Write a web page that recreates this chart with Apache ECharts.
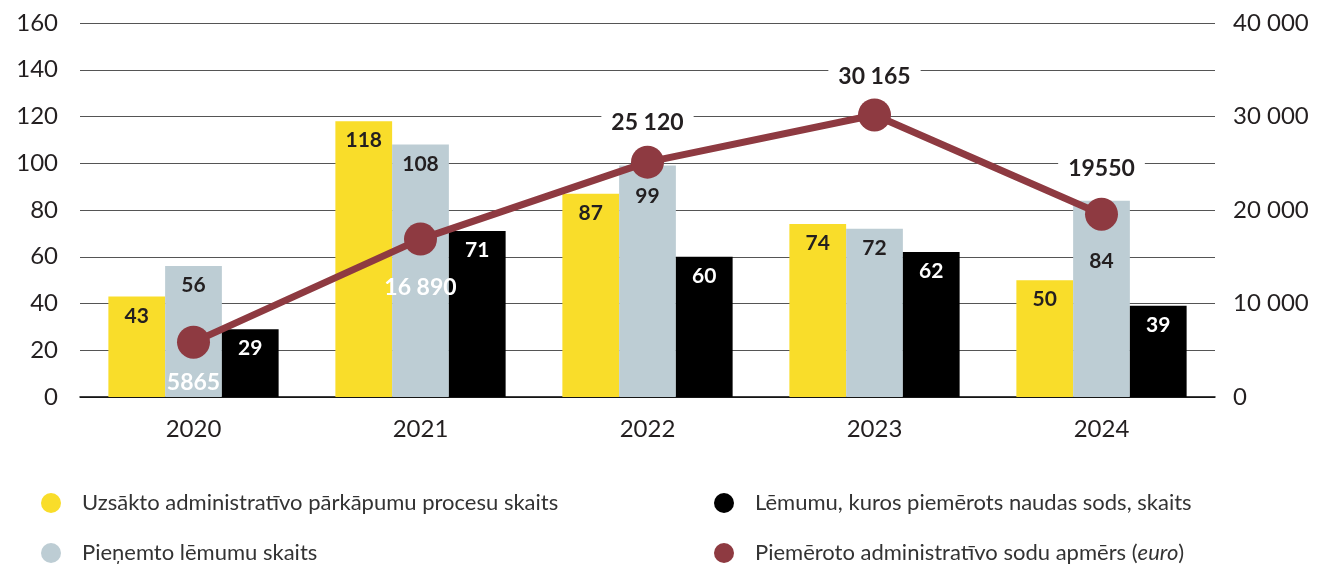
<!DOCTYPE html>
<html>
<head>
<meta charset="utf-8">
<script src="https://cdn.jsdelivr.net/npm/echarts@6/dist/echarts.min.js"></script>
<style>
  html, body { margin: 0; padding: 0; background: #fff; }
  #chart { width: 1331px; height: 565px; }
</style>
</head>
<body>
<div id="chart"></div>
<script>
  // data
  const years = ['2020', '2021', '2022', '2023', '2024'];
  const started = [43, 118, 87, 74, 50];
  const decisions = [56, 108, 99, 72, 84];
  const fined = [29, 71, 60, 62, 39];
  const fineSum = [5865, 16890, 25120, 30165, 19550];
  const fineSumLabels = ['5865', '16 890', '25 120', '30 165', '19550'];

  const names = [
    'Uzsākto administratīvo pārkāpumu procesu skaits',
    'Pieņemto lēmumu skaits',
    'Lēmumu, kuros piemērots naudas sods, skaits',
    'Piemēroto administratīvo sodu apmērs (euro)'
  ];
  const colors = ['#F9DD2A', '#BDCDD4', '#000000', '#8E3A41'];

  const font = 'Lato, "DejaVu Sans", sans-serif';
  const txt = '#231f20';

  const chart = echarts.init(document.getElementById('chart'));

  const barLabel = (color) => ({
    show: true,
    position: 'insideTop',
    distance: 9,
    color: color,
    fontFamily: font,
    fontWeight: 'bold',
    fontSize: 21
  });

  // grey bars: some labels pushed down so they clear the line markers
  const greyDistance = { 2: 20, 4: 50 };
  const greyData = decisions.map((v, i) => greyDistance[i] ? { value: v, label: { distance: greyDistance[i] } } : v);

  const topDistance = { 2: 10, 3: 8, 4: 16 };
  const lineData = fineSum.map((v, i) => {
    const below = i < 2;
    return {
      value: v,
      label: below
        ? { position: 'bottom', distance: i === 1 ? 18 : 10, color: '#fff', backgroundColor: 'transparent' }
        : { position: 'top', distance: topDistance[i] }
    };
  });

  // one legend per item so each sits where it does in the picture
  const legendSpots = [[41, 492], [41, 542], [714, 492], [714, 542]];
  const legends = names.map((n, i) => ({
    left: legendSpots[i][0], top: legendSpots[i][1], padding: 0,
    icon: 'circle', itemWidth: 20, itemHeight: 20,
    textStyle: {
      fontFamily: font, fontSize: 22, color: '#333', padding: [0, 0, 0, 16],
      rich: { i: { fontFamily: font, fontSize: 22, color: '#333', fontStyle: 'italic' } }
    },
    formatter: (s) => s === names[3] ? 'Piemēroto administratīvo sodu apmērs ({i|euro})' : s,
    data: [n]
  }));

  const option = {
    animation: false,
    color: colors,
    grid: { left: 80, right: 116, top: 23, bottom: 168 },
    legend: legends,
    xAxis: {
      type: 'category',
      data: years,
      axisTick: { show: false },
      axisLine: { lineStyle: { color: '#000', width: 1.5 } },
      axisLabel: { fontFamily: font, fontSize: 24, color: txt, margin: 20 }
    },
    yAxis: [
      {
        type: 'value', min: 0, max: 160, interval: 20,
        axisLine: { show: false }, axisTick: { show: false },
        splitLine: { lineStyle: { color: '#555', width: 1.2 } },
        axisLabel: { fontFamily: font, fontSize: 24, color: txt, margin: 22 }
      },
      {
        type: 'value', min: 0, max: 40000, interval: 10000,
        axisLine: { show: false }, axisTick: { show: false },
        splitLine: { show: false },
        axisLabel: {
          fontFamily: font, fontSize: 24, color: txt, margin: 18,
          formatter: (v) => String(v).replace(/\B(?=(\d{3})+(?!\d))/g, ' ')
        }
      }
    ],
    series: [
      {
        name: names[0], type: 'bar', data: started,
        barGap: '0%', barCategoryGap: '25%',
        label: barLabel(txt)
      },
      {
        name: names[1], type: 'bar', data: greyData,
        label: barLabel(txt)
      },
      {
        name: names[2], type: 'bar', data: fined,
        label: barLabel('#fff')
      },
      {
        name: names[3], type: 'line', yAxisIndex: 1, data: lineData,
        z: 10,
        symbol: 'circle', symbolSize: 33,
        lineStyle: { color: colors[3], width: 7 },
        itemStyle: { color: colors[3] },
        label: {
          show: true,
          fontFamily: font, fontWeight: 'bold', fontSize: 23, color: txt,
          backgroundColor: '#fff', padding: [2, 10],
          formatter: (p) => fineSumLabels[p.dataIndex]
        }
      }
    ]
  };

  chart.setOption(option);
</script>
</body>
</html>
